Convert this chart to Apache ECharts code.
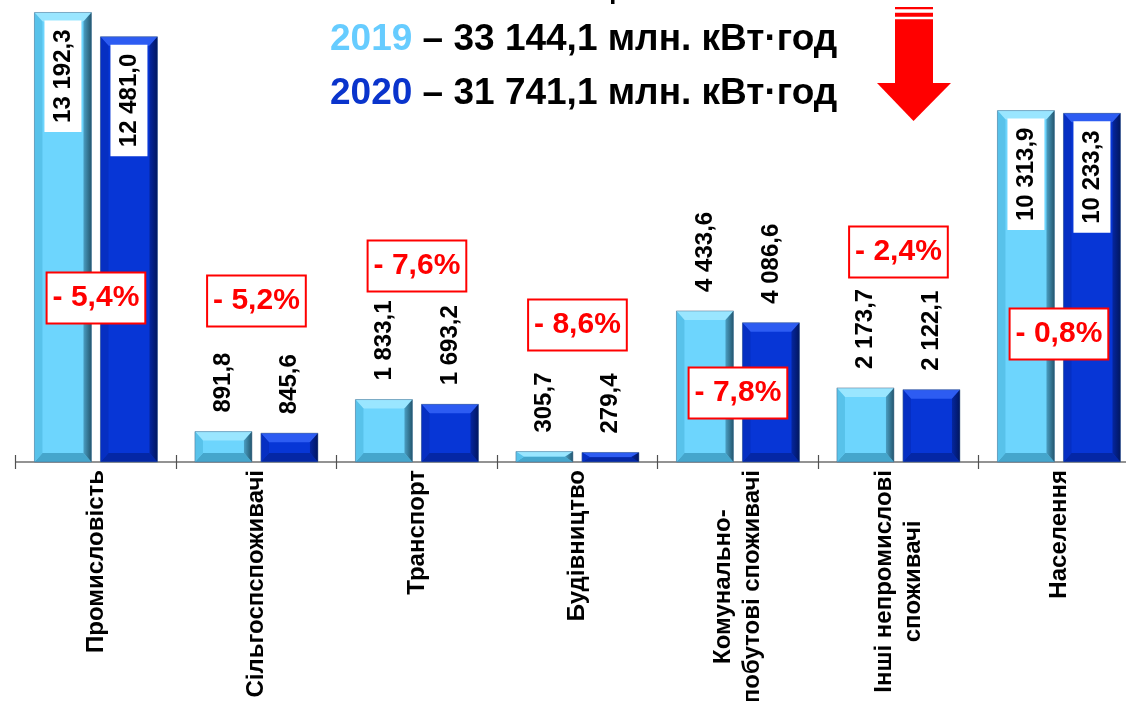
<!DOCTYPE html>
<html>
<head>
<meta charset="utf-8">
<script src="https://cdn.jsdelivr.net/npm/echarts@6/dist/echarts.min.js"></script>
<style>
html,body{margin:0;padding:0;background:#fff;}
#chart{width:1126px;height:701px;}
</style>
</head>
<body>
<div id="chart"></div>
<script>
// ---- data ----
const categories = ['Промисловість', 'Сільгоспспоживачі', 'Транспорт', 'Будівництво',
  'Комунально-\nпобутові споживачі', 'Інші непромислові\nспоживачі', 'Населення'];
const values2019 = [13192.3, 891.8, 1833.1, 305.7, 4433.6, 2173.7, 10313.9];
const values2020 = [12481.0, 845.6, 1693.2, 279.4, 4086.6, 2122.1, 10233.3];
const changePct = [-5.4, -5.2, -7.6, -8.6, -7.8, -2.4, -0.8];
const totalYears = ['2019', '2020'];
const totalValues = [33144.1, 31741.1];
const totalUnit = 'млн. кВт·год';

// ---- layout (not data) ----
const changeBoxY = [4813, 4726, 5753, 4021, 2025, 6164, 3757];
const FONT = '"Liberation Sans", Arial, sans-serif';
const BAR_W = 57, BAR_GAP = 9;
const C19 = {face: '#6dd5fd', top: '#9ae6ff', left: '#58c2ea', right: ['#4a9ec2', '#24566e'], bottom: '#45a6cc'};
const C20 = {face: '#0736d6', top: '#2d5cf2', left: '#062fc2', right: ['#0526a0', '#011660'], bottom: '#0427a6'};

function fmt(v) {
  const parts = v.toFixed(1).split('.');
  return parts[0].replace(/\B(?=(\d{3})+(?!\d))/g, ' ') + ',' + parts[1];
}
function fmtPct(p) {
  return (p < 0 ? '- ' : '+ ') + Math.abs(p).toFixed(1).replace('.', ',') + '%';
}

const insideLabel = {
  show: true, position: 'insideTop', distance: 8, rotate: 90, align: 'right', verticalAlign: 'middle',
  backgroundColor: '#ffffff', padding: [6, 9, 6, 9], lineHeight: 25
};
const topLabel = {
  show: true, position: 'top', distance: 19, rotate: 90, align: 'left', verticalAlign: 'middle'
};

function barData(vals) {
  return vals.map(v => ({value: v, label: v > 8000 ? insideLabel : topLabel}));
}

function bevelSeries(vals, s, col) {
  return {
    type: 'custom', z: 2, silent: true,
    data: vals.map((v, i) => [i, v]),
    renderItem: function (params, api) {
      const i = api.value(0), v = api.value(1);
      const p = api.coord([i, v]);
      const b = api.coord([i, 0]);
      const w = BAR_W;
      const x0 = p[0] - (2 * BAR_W + BAR_GAP) / 2 + s * (BAR_W + BAR_GAP);
      const x1 = x0 + w;
      const t = p[1], bo = b[1];
      const h = bo - t;
      const d = Math.min(9, h / 2), ds = Math.min(8, w / 2);
      return {
        type: 'group',
        children: [
          {type: 'rect', shape: {x: x0, y: t, width: w, height: h}, style: {fill: col.face}},
          {type: 'polygon', shape: {points: [[x0, t], [x1, t], [x1 - ds, t + d], [x0 + ds, t + d]]}, style: {fill: col.top}},
          {type: 'polygon', shape: {points: [[x0, bo], [x1, bo], [x1 - ds, bo - d], [x0 + ds, bo - d]]}, style: {fill: col.bottom}},
          {type: 'polygon', shape: {points: [[x0, t], [x0 + ds, t + d], [x0 + ds, bo - d], [x0, bo]]}, style: {fill: col.left}},
          {type: 'polygon', shape: {points: [[x1, t], [x1 - ds, t + d], [x1 - ds, bo - d], [x1, bo]]},
            style: {fill: new echarts.graphic.LinearGradient(0, 0, 1, 0, [{offset: 0, color: col.right[0]}, {offset: 1, color: col.right[1]}])}},
          {type: 'rect', shape: {x: x0, y: t, width: w, height: h}, style: {fill: 'none', stroke: 'rgba(80,110,140,0.5)', lineWidth: 1}}
        ]
      };
    }
  };
}

const chart = echarts.init(document.getElementById('chart'), null, {renderer: 'canvas'});

const titleLines = totalYears.map((y, k) => ({
  type: 'text', left: 330, top: 21 + k * 54, z: 10,
  style: {
    text: '{y' + k + '|' + y + '}{t| – ' + fmt(totalValues[k]) + ' ' + totalUnit + '}',
    rich: {
      y0: {fill: '#66ccff', font: 'bold 37px ' + FONT},
      y1: {fill: '#0a34cc', font: 'bold 37px ' + FONT},
      t: {fill: '#000000', font: 'bold 37px ' + FONT}
    }
  }
}));

chart.setOption({
  animation: false,
  backgroundColor: '#ffffff',
  textStyle: {fontFamily: FONT},
  grid: {left: 15.7, right: -13.2, top: 2, bottom: 239, containLabel: false, outerBoundsMode: 'none'},
  xAxis: [{
    type: 'category', data: categories, position: 'bottom',
    axisLine: {lineStyle: {color: '#707070', width: 1.5}},
    axisTick: {show: true, length: 7, interval: 0, lineStyle: {color: '#505050', width: 1.2}},
    axisLabel: {
      interval: 0, rotate: 90, margin: 8, color: '#000',
      formatter: v => v.split('\n').map(l => '{c|' + l + '}').join('\n'),
      rich: {c: {align: 'center', fontSize: 24, fontWeight: 'bold', fontFamily: FONT, color: '#000', lineHeight: 29}}
    }
  }, {
    type: 'category', data: categories, position: 'bottom', gridIndex: 0,
    axisLine: {show: false},
    axisTick: {show: true, inside: true, length: 7, interval: 0, lineStyle: {color: '#505050', width: 1.2}},
    axisLabel: {show: false}
  }],
  yAxis: {type: 'value', min: 0, max: 13500, show: false, splitLine: {show: false}},
  series: [
    bevelSeries(values2019, 0, C19),
    bevelSeries(values2020, 1, C20),
    {
      name: '2019', type: 'bar', z: 3, barWidth: BAR_W, barGap: (BAR_GAP / BAR_W * 100).toFixed(1) + '%',
      itemStyle: {color: 'rgba(0,0,0,0)'},
      label: {fontSize: 24, fontWeight: 'bold', color: '#000', fontFamily: FONT, formatter: p => fmt(p.value)},
      data: barData(values2019)
    },
    {
      name: '2020', type: 'bar', z: 3, barWidth: BAR_W,
      itemStyle: {color: 'rgba(0,0,0,0)'},
      label: {fontSize: 24, fontWeight: 'bold', color: '#000', fontFamily: FONT, formatter: p => fmt(p.value)},
      data: barData(values2020)
    },
    {
      type: 'scatter', z: 5, symbolSize: 2, itemStyle: {color: 'rgba(255,255,255,0)', opacity: 1}, silent: true,
      emphasis: {disabled: true},
      data: changePct.map((p, i) => [i, changeBoxY[i], p]),
      label: {
        show: true, position: 'inside', offset: [-5, 0], opacity: 1,
        formatter: p => fmtPct(p.value[2]),
        fontSize: 30, fontWeight: 'bold', color: '#ff0000', fontFamily: FONT,
        backgroundColor: '#ffffff', borderColor: '#ff0000', borderWidth: 2,
        padding: [9, 5, 7, 5], lineHeight: 33
      },
      labelLayout: {hideOverlap: false}
    }
  ],
  graphic: titleLines.concat([
    {type: 'rect', z: 10, shape: {x: 611, y: 0, width: 3.5, height: 4}, style: {fill: '#000'}},
    {type: 'rect', z: 10, shape: {x: 895, y: 7, width: 38, height: 2.3}, style: {fill: '#ff0000'}},
    {type: 'rect', z: 10, shape: {x: 895, y: 12.7, width: 38, height: 4}, style: {fill: '#ff0000'}},
    {type: 'rect', z: 10, shape: {x: 895, y: 19.3, width: 38, height: 64}, style: {fill: '#ff0000'}},
    {type: 'polygon', z: 10, shape: {points: [[877, 83], [951, 83], [913.5, 121]]}, style: {fill: '#ff0000'}}
  ])
});
</script>
</body>
</html>
